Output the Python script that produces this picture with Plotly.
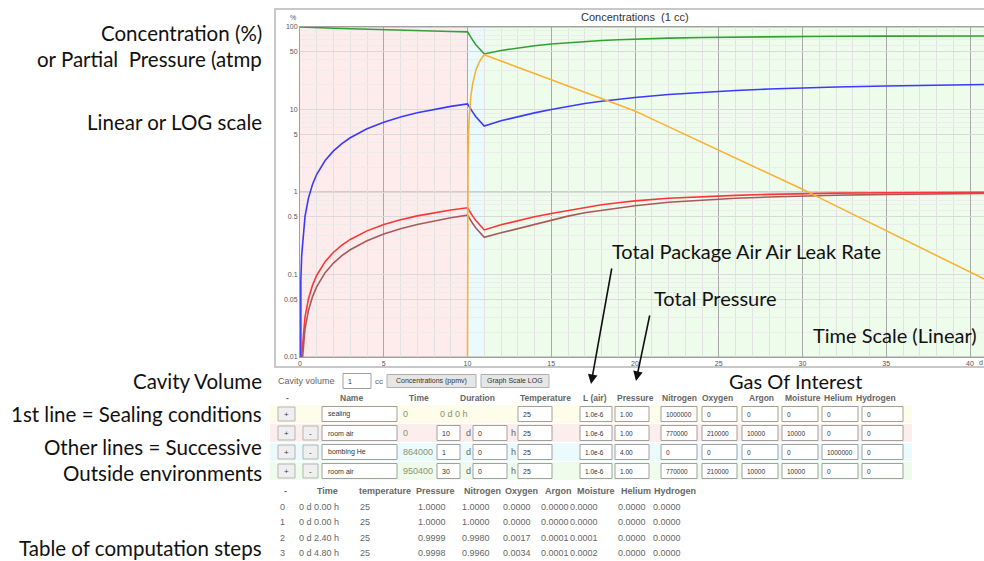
import plotly.graph_objects as go

# ---------------- chart data ----------------
time_days = [0, 0.01, 0.02, 0.05, 0.1, 0.2, 0.3, 0.5, 0.75, 1, 1.5, 2, 2.5, 3, 4, 5, 6, 7, 8, 9, 10,
             10.1, 10.2, 10.3, 10.5, 10.7, 10.9, 11,
             12, 13, 14, 15, 16, 17, 18, 19, 20, 22, 24, 26, 28, 30, 32, 35, 38, 41]
nitrogen = [100, 99.98, 99.96, 99.91, 99.81, 99.63, 99.45, 99.08, 98.64, 98.20, 97.36, 96.55, 95.77,
            95.02, 93.61, 92.32, 91.12, 90.02, 89.00, 88.06, 87.20,
            80.3, 74.6, 69.8, 61.0, 54.5, 49.3, 47.1,
            52.0, 56.0, 59.3, 62.2, 64.7, 66.8, 68.6, 70.1, 71.4, 73.3, 74.7, 75.7, 76.4, 76.9, 77.3,
            77.6, 77.8, 77.9]
oxygen = [0, 0.0171, 0.0341, 0.0853, 0.170, 0.339, 0.506, 0.837, 1.242, 1.640, 2.411, 3.152, 3.863,
          4.546, 5.831, 7.016, 8.108, 9.115, 10.04, 10.90, 11.69,
          10.77, 9.99, 9.35, 8.18, 7.31, 6.60, 6.31,
          7.3, 8.2, 9.1, 10.0, 10.9, 11.8, 12.6, 13.3, 14.0, 15.2, 16.2, 17.0, 17.7, 18.3, 18.7,
          19.3, 19.7, 20.1]
moisture = [0, 0.00103, 0.00206, 0.00514, 0.01026, 0.02041, 0.03045, 0.05024, 0.07443, 0.09798,
            0.1433, 0.1863, 0.2272, 0.2661, 0.3379, 0.4028, 0.4613, 0.5140, 0.5617, 0.6046, 0.6433,
            0.592, 0.550, 0.514, 0.450, 0.402, 0.363, 0.347,
            0.40, 0.45, 0.50, 0.55, 0.60, 0.65, 0.70, 0.74, 0.78, 0.84, 0.88, 0.91, 0.935, 0.955,
            0.97, 0.98, 0.99, 0.995]
argon = [0, 0.00074, 0.00148, 0.0037, 0.00738, 0.0147, 0.0220, 0.0364, 0.0540, 0.0714, 0.1052,
         0.1377, 0.1690, 0.1993, 0.2564, 0.3095, 0.3588, 0.4046, 0.4471, 0.4866, 0.5233,
         0.482, 0.447, 0.418, 0.366, 0.327, 0.295, 0.282,
         0.32, 0.36, 0.41, 0.46, 0.51, 0.56, 0.60, 0.64, 0.68, 0.75, 0.80, 0.84, 0.87, 0.895,
         0.915, 0.935, 0.95, 0.96]
helium_time = [10.0001, 10.001, 10.005, 10.01, 10.03, 10.06, 10.1, 10.2, 10.3, 10.5, 10.7, 10.9, 11,
               12, 13, 14, 15, 16, 17, 18, 19, 20, 21, 22, 23, 24, 25, 26, 27, 28, 29, 30,
               31, 32, 33, 34, 35, 36, 37, 38, 39, 40, 41]
helium = [0.0085, 0.085, 0.42, 0.85, 2.5, 4.9, 7.9, 14.5, 20, 30, 37.5, 43.5, 46,
          38.6, 32.4, 27.2, 22.8, 19.2, 16.1, 13.5, 11.4, 9.6, 7.7, 6.2, 4.98, 4.0, 3.21, 2.58,
          2.07, 1.67, 1.34, 1.08, 0.855, 0.68, 0.54, 0.43, 0.34, 0.27, 0.215, 0.17, 0.135,
          0.107, 0.085]

y_tick_vals = [0.01, 0.05, 0.1, 0.5, 1, 5, 10, 50, 100]
y_tick_text = ["0.01", "0.05", "0.1", "0.5", "1", "5", "10", "50", "100"]
y_decades = [0.01, 0.1, 1, 10, 100]
y_minor = [m * d for d in [0.01, 0.1, 1, 10] for m in [2, 3, 4, 6, 7, 8, 9]]
x_tick_vals = [0, 5, 10, 15, 20, 25, 30, 35, 40]

# phases (days)
phase_start = [0, 10, 11]
phase_end = [10, 11, 41]
phase_colors = ["#fdeceb", "#eafbfd", "#edfceb"]

# ---------------- form data ----------------
form_names = ["sealing", "room air", "bombing He", "room air"]
form_time = ["0", "0", "864000", "950400"]
form_days = ["", "10", "1", "30"]
form_hours = ["", "0", "0", "0"]
form_temperature = ["25", "25", "25", "25"]
form_leak = ["1.0e-6", "1.0e-6", "1.0e-6", "1.0e-6"]
form_pressure = ["1.00", "1.00", "4.00", "1.00"]
gas_columns = ["Nitrogen", "Oxygen", "Argon", "Moisture", "Helium", "Hydrogen"]
form_gas = [["1000000", "0", "0", "0", "0", "0"],
            ["770000", "210000", "10000", "10000", "0", "0"],
            ["0", "0", "0", "0", "1000000", "0"],
            ["770000", "210000", "10000", "10000", "0", "0"]]
form_row_colors = ["#fdfde9", "#fdeeee", "#ebfbfd", "#effcec"]

# ---------------- computation steps table ----------------
step_index = ["0", "1", "2", "3"]
step_time = ["0 d 0.00 h", "0 d 0.00 h", "0 d 2.40 h", "0 d 4.80 h"]
step_temp = ["25", "25", "25", "25"]
step_pressure = ["1.0000", "1.0000", "0.9999", "0.9998"]
step_nitrogen = ["1.0000", "1.0000", "0.9980", "0.9960"]
step_oxygen = ["0.0000", "0.0000", "0.0017", "0.0034"]
step_argon = ["0.0000", "0.0000", "0.0001", "0.0001"]
step_moisture = ["0.0000", "0.0000", "0.0001", "0.0002"]
step_helium = ["0.0000", "0.0000", "0.0000", "0.0000"]
step_hydrogen = ["0.0000", "0.0000", "0.0000", "0.0000"]

# ---------------- geometry ----------------
W, H = 984, 561
ML, MR, MT, MB = 300, 0, 27, 204
PW, PH = W - ML - MR, H - MT - MB


def px(x):
    return (x - ML) / PW


def py(y):
    return (H - MB - y) / PH


SMALL = "Liberation Sans, Arial, sans-serif"
BIG = "Lato, Carlito, Calibri, sans-serif"

fig = go.Figure()

fig.add_trace(go.Scatter(x=time_days, y=nitrogen, mode="lines", name="Nitrogen",
                         line=dict(color="#34a034", width=1.6)))
fig.add_trace(go.Scatter(x=time_days, y=oxygen, mode="lines", name="Oxygen",
                         line=dict(color="#3a3aff", width=1.6)))
fig.add_trace(go.Scatter(x=time_days, y=moisture, mode="lines", name="Moisture",
                         line=dict(color="#ff3535", width=1.6)))
fig.add_trace(go.Scatter(x=time_days, y=argon, mode="lines", name="Argon",
                         line=dict(color="#a85a5a", width=1.6)))
fig.add_trace(go.Scatter(x=helium_time, y=helium, mode="lines", name="Helium",
                         line=dict(color="#f9b233", width=1.6)))

shapes = []
annotations = []

# phase backgrounds
for s, e, c in zip(phase_start, phase_end, phase_colors):
    shapes.append(dict(type="rect", xref="x", yref="paper", x0=s, x1=e, y0=0, y1=1,
                       fillcolor=c, line=dict(width=0), layer="below"))
# decade lines (darker)
for d in y_decades:
    shapes.append(dict(type="line", xref="paper", yref="y", x0=0, x1=1, y0=d, y1=d,
                       line=dict(color="#a9a9a9", width=1), layer="between"))

# chart frame
shapes.append(dict(type="rect", xref="paper", yref="paper", x0=px(275), x1=px(995),
                   y0=py(367), y1=py(9), line=dict(color="#c8c8c8", width=2)))


def ann(x, y, text, size=8, color="#555555", xanchor="left", family=SMALL, bold=False):
    if bold:
        text = "<b>" + text + "</b>"
    annotations.append(dict(x=px(x), y=py(y), xref="paper", yref="paper", text=text,
                            showarrow=False, xanchor=xanchor, yanchor="middle",
                            font=dict(size=size, color=color, family=family)))


def box(x0, x1, yc, h=15, fill="white", line="#a0a0a0"):
    shapes.append(dict(type="rect", xref="paper", yref="paper", x0=px(x0), x1=px(x1),
                       y0=py(yc + h / 2), y1=py(yc - h / 2), fillcolor=fill,
                       line=dict(color=line, width=1)))


# chart title and small labels
ann(635, 17, "Concentrations  (1 cc)", size=11, color="#333333", xanchor="center")
ann(293, 18, "%", size=7, color="#555555", xanchor="center")
ann(977, 363, "d", size=7, color="#555555")

# big explanatory texts (left)
for txt, yy in [("Concentration (%)", 33), ("or Partial  Pressure (atmp", 59),
                ("Linear or LOG scale", 122), ("Cavity Volume", 381),
                ("1st line = Sealing conditions", 414), ("Other lines = Successive", 447),
                ("Outside environments", 473), ("Table of computation steps", 548)]:
    ann(264, yy, txt, size=20.5, color="#111111", xanchor="right", family=BIG)

# big texts in chart
ann(610, 251, "Total Package Air Air Leak Rate", size=20, color="#111111", family=BIG)
ann(652, 298, "Total Pressure", size=20, color="#111111", family=BIG)
ann(811, 335, "Time Scale (Linear)", size=20, color="#111111", family=BIG)
ann(727, 381, "Gas Of Interest", size=20, color="#111111", family=BIG)

# arrows
for (hx, hy), (tx, ty) in [((591, 384), (612, 267)), ((636, 381), (650, 314))]:
    annotations.append(dict(x=px(hx), y=py(hy), xref="paper", yref="paper", text="",
                            showarrow=True, ax=tx - hx, ay=ty - hy, axref="pixel", ayref="pixel",
                            arrowhead=2, arrowsize=1.2, arrowwidth=1.6, arrowcolor="#111111",
                            standoff=0, startstandoff=0))

# cavity volume row
ann(276, 381, "Cavity volume", size=9, color="#666666")
box(343, 371, 381, h=15)
ann(346, 381, "1", size=7, color="#333333")
ann(373, 381, "cc", size=8, color="#666666")
box(387, 476, 381, h=13, fill="#e6e6e6", line="#b0b0b0")
ann(431.5, 381, "Concentrations (ppmv)", size=7, color="#333333", xanchor="center")
box(481, 549, 381, h=13, fill="#e6e6e6", line="#b0b0b0")
ann(515, 381, "Graph Scale LOG", size=7, color="#333333", xanchor="center")

# header row
hdr_y = 398
for txt, xx in [("-", 284), ("Name", 338), ("Time", 407), ("Duration", 458),
                ("Temperature", 518), ("L (air)", 581), ("Pressure", 615)]:
    ann(xx, hdr_y, txt, size=8.5, color="#666666", bold=True)
gas_hdr_x = [660, 700, 747, 783, 822, 854]
for txt, xx in zip(gas_columns, gas_hdr_x):
    ann(xx, hdr_y, txt, size=8.5, color="#666666", bold=True)

# form rows
row_y = [414, 433, 452, 471]
gas_box_x = [(661, 697), (702, 737), (742, 778), (782, 818), (822, 858), (862, 903)]
for i, yc in enumerate(row_y):
    shapes.append(dict(type="rect", xref="paper", yref="paper", x0=px(270), x1=px(912),
                       y0=py(yc + 9), y1=py(yc - 9), fillcolor=form_row_colors[i],
                       line=dict(width=0)))
    box(278, 295, yc, h=14, fill="#efefef", line="#b5b5b5")
    ann(286.5, yc, "+", size=8, color="#333333", xanchor="center")
    if i > 0:
        box(303, 318, yc, h=14, fill="#efefef", line="#b5b5b5")
        ann(310.5, yc, "-", size=8, color="#333333", xanchor="center")
    box(322, 397, yc)
    ann(326, yc, form_names[i], size=7, color="#333333")
    ann(401, yc, form_time[i], size=9, color="#8a9470")
    if i == 0:
        ann(438, yc, "0 d 0 h", size=9, color="#8a9470")
    else:
        box(437, 460, yc)
        ann(440, yc, form_days[i], size=7, color="#333333")
        ann(464, yc, "d", size=9, color="#666666")
        box(473, 507, yc)
        ann(476, yc, form_hours[i], size=7, color="#333333")
        ann(509, yc, "h", size=9, color="#666666")
    box(518, 552, yc)
    ann(521, yc, form_temperature[i], size=7, color="#333333")
    box(580, 612, yc)
    ann(583, yc, form_leak[i], size=6.5, color="#333333")
    box(615, 649, yc)
    ann(618, yc, form_pressure[i], size=6.5, color="#333333")
    for (x0, x1), val in zip(gas_box_x, form_gas[i]):
        box(x0, x1, yc)
        ann(x0 + 3, yc, val, size=6.5, color="#333333")

# computation table
tbl_hdr_y = 491
for txt, xx in [("-", 282), ("Time", 315), ("temperature", 357), ("Pressure", 414),
                ("Nitrogen", 462), ("Oxygen", 503), ("Argon", 543), ("Moisture", 575),
                ("Helium", 619), ("Hydrogen", 652)]:
    ann(xx, tbl_hdr_y, txt, size=9, color="#666666", bold=True)
tbl_y = [507, 522, 538, 553]
for i, yc in enumerate(tbl_y):
    ann(282, yc, step_index[i], size=9, color="#666666", xanchor="center")
    ann(297, yc, step_time[i], size=9, color="#666666")
    ann(358, yc, step_temp[i], size=9, color="#666666")
    for val, xr in [(step_pressure[i], 448), (step_nitrogen[i], 492), (step_oxygen[i], 533),
                    (step_argon[i], 571), (step_moisture[i], 600), (step_helium[i], 648),
                    (step_hydrogen[i], 683)]:
        ann(xr, yc, val, size=9, color="#666666", xanchor="right")

fig.update_layout(
    width=W, height=H,
    margin=dict(l=ML, r=MR, t=MT, b=MB, pad=0),
    paper_bgcolor="white", plot_bgcolor="white",
    showlegend=False,
    shapes=shapes, annotations=annotations,
    xaxis=dict(range=[0, PW / 16.75], tickvals=x_tick_vals, ticks="",
               tickfont=dict(size=7, color="#555555", family=SMALL),
               showgrid=True, gridcolor="#a9a9a9", gridwidth=1,
               minor=dict(dtick=1, showgrid=True, gridcolor="#e2e2e2", gridwidth=1),
               showline=True, linecolor="#a0a0a0", linewidth=1, mirror=True, zeroline=False),
    yaxis=dict(type="log", range=[-2, 2], tickvals=y_tick_vals, ticktext=y_tick_text, ticks="",
               tickfont=dict(size=7, color="#555555", family=SMALL),
               showgrid=True, gridcolor="#dadada", gridwidth=1,
               minor=dict(tickvals=y_minor, showgrid=True, gridcolor="#ececec", gridwidth=1),
               showline=True, linecolor="#a0a0a0", linewidth=1, mirror=True, zeroline=False),
)

fig.write_html("out.html", config={"displayModeBar": False},
               post_script="document.body.style.margin='0';document.body.style.overflow='hidden';")
